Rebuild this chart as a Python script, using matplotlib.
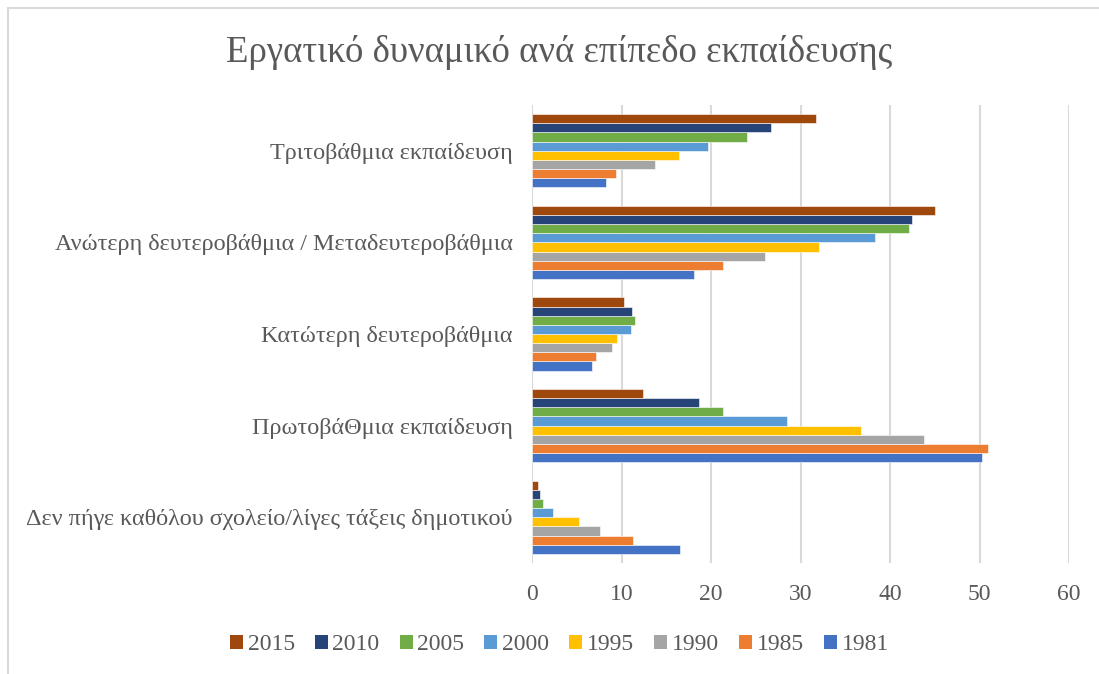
import matplotlib
matplotlib.use("Agg")
import matplotlib.pyplot as plt
from matplotlib.patches import Patch, Rectangle
import numpy as np

plt.rcParams['font.family'] = ['Liberation Serif', 'DejaVu Serif']

title = "Εργατικό δυναμικό ανά επίπεδο εκπαίδευσης"
# bottom to top
categories = [
    "Δεν πήγε καθόλου σχολείο/λίγες τάξεις δημοτικού",
    "ΠρωτοβάΘμια εκπαίδευση",
    "Κατώτερη δευτεροβάθμια",
    "Ανώτερη δευτεροβάθμια / Μεταδευτεροβάθμια",
    "Τριτοβάθμια εκπαίδευση",
]
years = ["1981", "1985", "1990", "1995", "2000", "2005", "2010", "2015"]
v1981 = [16.5, 50.3, 6.7, 18.1, 8.3]
v1985 = [11.3, 50.9, 7.1, 21.3, 9.4]
v1990 = [7.6, 43.8, 8.9, 26.0, 13.7]
v1995 = [5.2, 36.8, 9.5, 32.1, 16.4]
v2000 = [2.3, 28.5, 11.1, 38.3, 19.7]
v2005 = [1.2, 21.3, 11.5, 42.1, 24.0]
v2010 = [0.9, 18.7, 11.2, 42.5, 26.7]
v2015 = [0.7, 12.4, 10.3, 45.0, 31.7]
series = [v1981, v1985, v1990, v1995, v2000, v2005, v2010, v2015]
colors = ["#4472C4", "#ED7D31", "#A5A5A5", "#FFC000", "#5B9BD5", "#70AD47", "#264478", "#9E480E"]
xticks = [0, 10, 20, 30, 40, 50, 60]

fig = plt.figure(figsize=(10.99, 6.74), dpi=100)
ax = fig.add_axes([532/1099, 1-563/674, (1069-532)/1099, (563-105)/674])

n = len(series)
bh = 0.8 / n
y = np.arange(len(categories))
for i, (vals, c) in enumerate(zip(series, colors)):
    offs = -0.4 + bh * (i + 0.5)
    ax.barh(y + offs, vals, height=bh, color=c, edgecolor='white', linewidth=0.4, zorder=3)

ax.set_xlim(0, 60)
ax.set_ylim(-0.5, len(categories) - 0.5)
ax.set_xticks(xticks)
ax.set_xticklabels([str(t) for t in xticks])
ax.set_yticks(y)
ax.set_yticklabels(categories)
ax.grid(axis='x', color='#D9D9D9', linewidth=1.5, zorder=0)
for s in ax.spines.values():
    s.set_visible(False)
ax.tick_params(axis='both', length=0, colors='#595959', labelsize=17)
ax.tick_params(axis='y', pad=14, labelsize=17.4)
ax.tick_params(axis='x', pad=15)

fig.text(0.509, 1-53/674, title, ha='center', va='center', fontsize=26.5, color='#595959')

handles = [Patch(facecolor=c, edgecolor='none') for c in colors][::-1]
labels = years[::-1]
fig.legend(handles, labels, loc='center', bbox_to_anchor=(0.509, 1-645/674), ncol=8,
           frameon=False, fontsize=17, handlelength=0.55, handleheight=0.55,
           handletextpad=0.2, columnspacing=0.85, labelcolor='#595959')

fig.patches.append(Rectangle((8/1099, -0.1), 1.2, 1 - 8/674 + 0.1, transform=fig.transFigure,
                             fill=False, edgecolor='#D9D9D9', linewidth=1.5))

fig.savefig("out.png", dpi=100)
